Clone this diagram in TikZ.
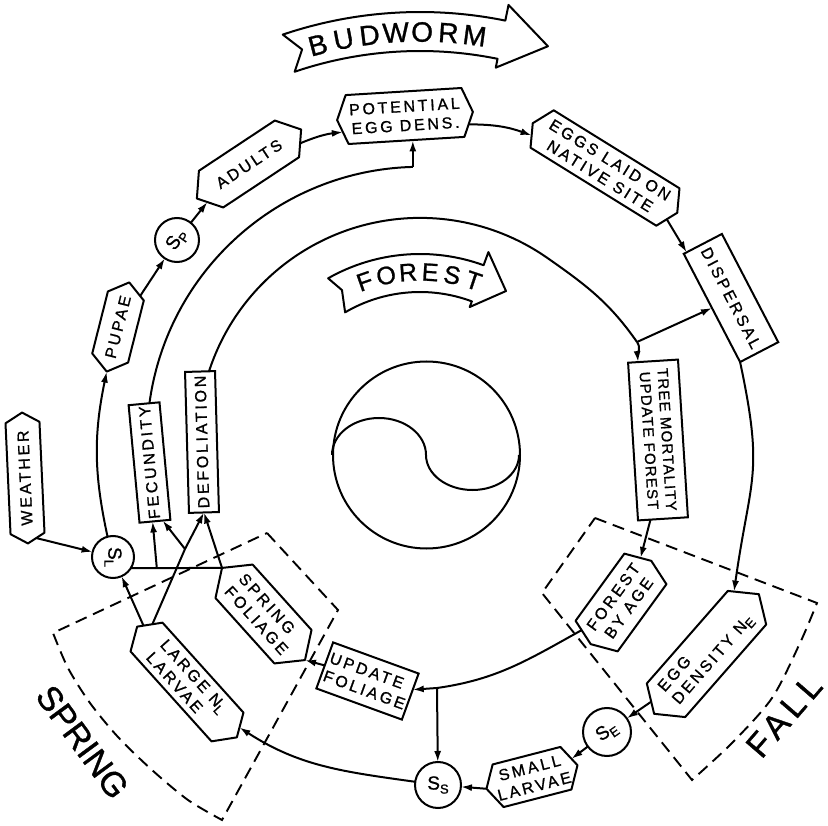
\documentclass[tikz,border=0pt]{standalone}
\usepackage{fontspec}
\setmainfont{Liberation Sans}[LetterSpace=17,FakeBold=1]
\newfontfamily\tightfam{Liberation Sans}[LetterSpace=8,FakeBold=1]
\newfontfamily\plainfam{Liberation Sans}[FakeBold=1]
\newfontfamily\fallfam{Liberation Sans}[LetterSpace=16,FakeBold=1]
\usetikzlibrary{calc,arrows.meta}
\newcommand\labf{\fontsize{16}{19}\selectfont}
\newcommand\tmf{\tightfam\fontsize{15}{18}\selectfont}
\newcommand\circf{\plainfam\fontsize{19}{19}\selectfont}
\newcommand\mysub[1]{\raisebox{-4pt}{\fontsize{13}{13}\selectfont #1}}
\newcommand\bwf{\plainfam\fontsize{28}{28}\selectfont}
\newcommand\fsf{\plainfam\fontsize{25}{25}\selectfont}
\newcommand\springf{\plainfam\fontsize{34}{34}\selectfont}
\newcommand\fallf{\fallfam\fontsize{34}{34}\selectfont}
\newcommand\hexo[2]{%
  \coordinate (#1-nw) at ($(#1.north west)!#2!(#1.north east)$);
  \coordinate (#1-ne) at ($(#1.north east)!#2!(#1.north west)$);
  \coordinate (#1-sw) at ($(#1.south west)!#2!(#1.south east)$);
  \coordinate (#1-se) at ($(#1.south east)!#2!(#1.south west)$);
  \draw[ln, line join=round] (#1.west) -- (#1-nw) -- (#1-ne) -- (#1.east) -- (#1-se) -- (#1-sw) -- cycle;}
\tikzset{
  ln/.style={line width=2pt},
  arr/.style={ln, -{Latex[length=11pt,width=7pt]}},
  hexn/.style={rectangle, inner sep=0pt, outer sep=0pt, align=center, font=\labf},
  box/.style={rectangle, draw, ln, inner sep=0pt, outer sep=0pt, align=center, font=\labf},
  circ/.style={circle, draw, ln, inner sep=0pt, outer sep=0pt},
  dashbox/.style={line width=1.9pt, dash pattern=on 12pt off 7pt},
}
\begin{document}
\begin{tikzpicture}[x=1pt,y=1pt]
\useasboundingbox (0,0) rectangle (828,-826);
\coordinate (O) at (420,-440);

% ---- hexagon nodes
\node[hexn, minimum width=131pt, minimum height=34pt, rotate=92.6] (weather) at (25,-478) {WEATHER};
\node[hexn, minimum width=92pt, minimum height=37pt, rotate=75.8] (pu) at (118,-327) {PUPAE};
\node[hexn, minimum width=125pt, minimum height=44pt, rotate=33.5] (ad) at (249,-164) {ADULTS};
\node[hexn, minimum width=136pt, minimum height=49pt, rotate=3.5] (pot) at (405,-116) {POTENTIAL\\EGG DENS.};
\node[hexn, minimum width=170pt, minimum height=44pt, rotate=-31.8] (eggs) at (605,-168) {EGGS LAID ON\\NATIVE SITE};
\node[hexn, minimum width=159pt, minimum height=51pt, rotate=48.8, align=left] (eggden) at (706.5,-654) {EGG\\DENSITY N\mysub{E}};
\node[hexn, minimum width=94pt, minimum height=44pt, rotate=14.5] (sml) at (532,-777) {SMALL\\LARVAE};
\node[hexn, minimum width=149pt, minimum height=43pt, rotate=-48, align=left] (ll) at (187,-682) {LARGE N\mysub{L}\\LARVAE};
\node[hexn, minimum width=103pt, minimum height=52pt, rotate=54] (fba) at (621,-602.5) {FOREST\\BY AGE};
\node[hexn, minimum width=124pt, minimum height=50pt, rotate=-48, align=left] (sf) at (263.5,-614) {SPRING\\FOLIAGE};

\hexo{weather}{10pt}
\hexo{pu}{14pt}
\hexo{ad}{17pt}
\hexo{pot}{10pt}
\hexo{eggs}{11pt}
\hexo{eggden}{18pt}
\hexo{sml}{12pt}
\hexo{ll}{14pt}
\hexo{fba}{10pt}
\hexo{sf}{18pt}

% ---- rectangles
\node[box, minimum width=118pt, minimum height=31pt, rotate=95.3] (fec) at (149.5,-462.5) {FECUNDITY};
\node[box, minimum width=141pt, minimum height=30pt, rotate=91.6] (defol) at (202,-442) {DEFOLIATION};
\node[box, minimum width=158pt, minimum height=50pt, rotate=-86.4, font=\tmf] (tm) at (658,-440) {TREE MORTALITY\\UPDATE FOREST};
\node[box, minimum width=122pt, minimum height=43pt, rotate=-62.5] (disp) at (731,-298) {DISPERSAL};
\node[box, minimum width=91pt, minimum height=49pt, rotate=-20, align=left] (uf) at (367.5,-681) {UPDATE\\FOLIAGE};

% ---- circles
\node[circ, minimum size=42pt] (sl) at (113,-557) {\rotatebox{-90}{\circf S\mysub{L}}};
\node[circ, minimum size=44pt] (sp) at (177,-240) {\rotatebox{55}{\circf S\mysub{P}}};
\node[circ, minimum size=48pt] (se) at (607,-732) {\rotatebox{35}{\circf S\mysub{E}}};
\node[circ, minimum size=46pt] (ss) at (438,-785) {\circf S\mysub{S}};

% ---- budworm cycle
\draw[arr] ($(weather.west)!0.5!(weather-sw)$) -- (sl);
\draw[arr] (sl.105) to[bend left=12] (pu.west);
\draw[arr] ($(pu-se)!0.25!(pu.east)$) -- (sp);
\draw[arr] (sp) -- ($(ad.west)!0.4!(ad-sw)$);
\draw[arr] ($(ad.east)!0.5!(ad-se)$) to[bend left=8] ($(pot.west)!0.5!(pot-sw)$);
\draw[arr] ($(pot.east)!0.5!(pot-se)$) to[bend left=10] ($(eggs.west)!0.5!(eggs-sw)$);
\draw[arr] ($(eggs.east)!0.5!(eggs-se)$) -- ($(disp.west)!0.85!(disp.south west)$);
\draw[arr] (disp.south east) to[out=-78,in=82,looseness=1.3] ($(eggden-ne)!0.2!(eggden.east)$);
\draw[arr] ($(eggden.west)!0.4!(eggden-nw)$) -- (se);
\draw[arr] (se) -- ($(sml.east)!0.35!(sml-ne)$);
\draw[arr] (sml.west) -- (ss);
\draw[arr] (ss) to[out=172,in=-33] ($(ll.east)!0.4!(ll-ne)$);
\draw[arr] ($(ll.west)!0.25!(ll-nw)$) -- (sl);

% ---- spring links
\coordinate (jLL) at (185,-549);
\draw[ln] ($(ll.west)!0.6!(ll-nw)$) -- (jLL);
\draw[arr] (jLL) -- (defol.west);
\draw[arr] (jLL) -- ($(fec.west)!0.5!(fec.south west)$);
\draw[ln] (sl.-32) -- (sf.west);
\coordinate (jF) at ($(sl.-32)!0.285!(sf.west)$);
\draw[arr] (jF) -- ($(fec.west)!0.15!(fec.north west)$);
\draw[arr] (sf.west) -- (defol.west);
\draw[arr] (uf.west) -- (sf.east);

% ---- forest cycle
\coordinate (jTM) at (637,-342);
\draw[ln] ($(defol.east)!0.6!(defol.south east)$) arc[start angle=162,end angle=55,radius=222] to[out=-35,in=125] (jTM);
\draw[arr] (jTM) to[out=-55,in=95] ($(tm.west)!0.6!(tm.south west)$);
\draw[arr] (jTM) -- (disp.south);
\draw[arr] ($(tm.east)!0.5!(tm.south east)$) -- ($(fba.east)!0.4!(fba-ne)$);
\coordinate (jUF) at (437,-688);
\draw[arr] ($(fba.west)!0.6!(fba-nw)$) to[out=209,in=8] (jUF) -- ($(uf.east)!0.3!(uf.north east)$);
\draw[arr] (jUF) -- (ss);

% ---- fecundity to potential egg density
\draw[ln] ($(fec.east)!0.35!(fec.south east)$) arc[start angle=172.3,end angle=91.5,radius=273] coordinate (jPot);
\draw[arr] (jPot) -- (jPot |- pot.south);

% ---- centre symbol
\node[circle, draw, ln, minimum size=187pt, inner sep=0pt] (yy) at (426.5,-455) {};
\draw[ln] (yy.west) arc[start angle=180,end angle=0,x radius=47,y radius=37] arc[start angle=180,end angle=360,x radius=46.5,y radius=35];

% ---- banners
\draw[ln, line join=round] ($(O)+(108.7:428)$) arc[start angle=108.7,end angle=78.5,radius=428] -- ($(O)+(78.5:444)$) -- ($(O)+(72:414)$) -- ($(O)+(78.5:380)$) -- ($(O)+(78.5:389)$) arc[start angle=78.5,end angle=108.8,radius=389] -- ($(O)+(106.8:408)$) -- cycle;
\foreach \l [count=\i] in {B,U,D,W,O,R,M} {
  \pgfmathsetmacro\a{104.5-(\i-1)*3.7}
  \node[font=\bwf, rotate=\a-90, inner sep=0pt] (bw\i) at ($(O)+(\a:408)$) {\l};
}
\draw[ln, line join=round] ($(O)+(119.6:186)$) arc[start angle=119.6,end angle=70,radius=186] -- ($(O)+(70:200)$) -- ($(O)+(60:172)$) -- ($(O)+(69.5:142)$) -- ($(O)+(69.5:148)$) arc[start angle=69.5,end angle=120.4,radius=148] -- ($(O)+(117.5:169)$) -- cycle;
\foreach \l [count=\i] in {F,O,R,E,S,T} {
  \pgfmathsetmacro\a{109.2-(\i-1)*7.56}
  \node[font=\fsf, rotate=\a-90, inner sep=0pt] (fr\i) at ($(O)+(\a:168)$) {\l};
}

% ---- season boxes
\draw[dashbox] (267,-533) -- (338,-610) -- (222,-820) -- plot[smooth] coordinates {(222,-820) (188,-800) (152,-770) (118,-737) (90,-703) (68,-668) (53,-633)} -- cycle;
\draw[dashbox] (595,-518) -- (817,-603) -- plot[smooth] coordinates {(817,-603) (800,-643) (772,-698) (732,-743) (692,-780)} -- (542,-593) -- cycle;
\node[font=\springf, rotate=-53.6, inner sep=0pt] (spring) at (82.5,-742) {SPRING};
\node[font=\fallf, rotate=49.2, inner sep=0pt] (fall) at (784,-716) {FALL};
\end{tikzpicture}
\end{document}
